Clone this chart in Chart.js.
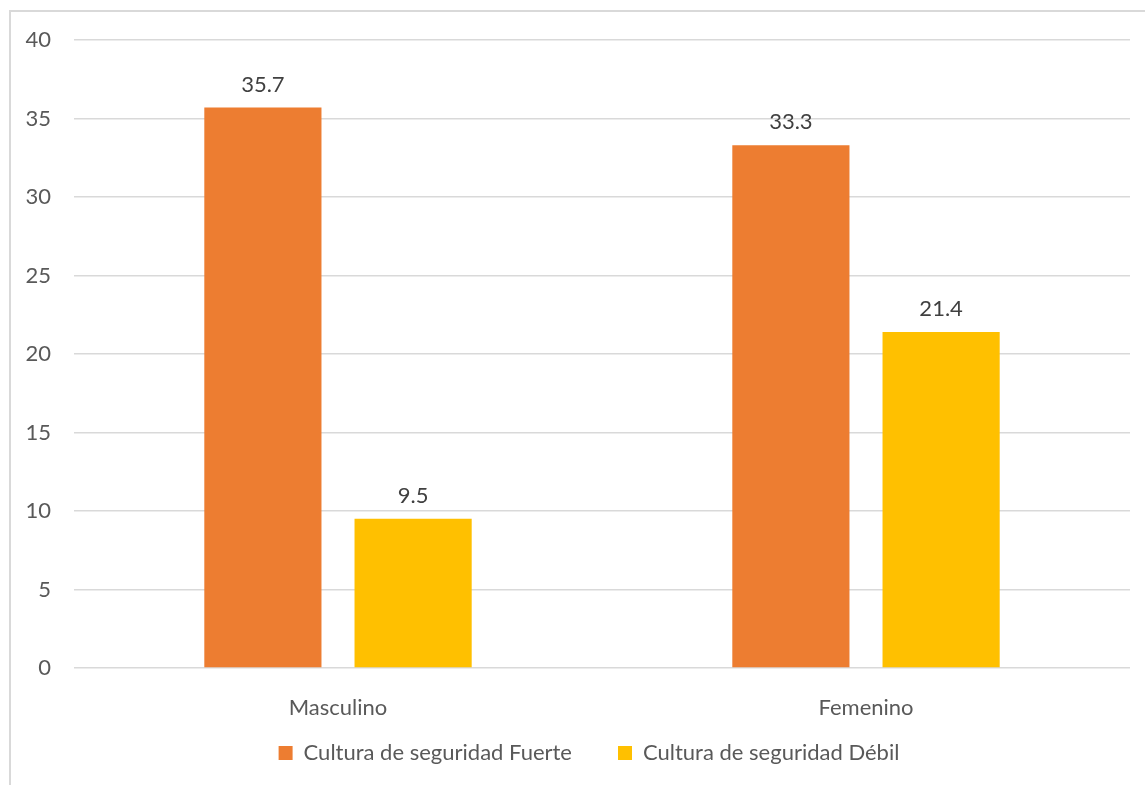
<!DOCTYPE html>
<html>
<head>
<meta charset="utf-8">
<script src="https://cdn.jsdelivr.net/npm/chart.js@4"></script>
<style>
  html, body { margin: 0; padding: 0; background: #fff; }
  #frame { position: absolute; left: 9px; top: 10px; width: 1200px; height: 850px; border: 2px solid #d9d9d9; }
  #wrap { position: absolute; left: 0; top: 0; width: 1145px; height: 785px; }
</style>
</head>
<body>
<div id="frame"></div>
<div id="wrap"><canvas id="chart"></canvas></div>
<script>
const categories = ['Masculino', 'Femenino'];
const fuerte = [35.7, 33.3];
const debil = [9.5, 21.4];
const yTicks = [0, 5, 10, 15, 20, 25, 30, 35, 40];

const fontFamily = 'Lato, "Open Sans", sans-serif';

// etiquettes de valeur au-dessus des barres
const valueLabels = {
    id: 'valueLabels',
    afterDatasetsDraw(chart) {
        const ctx = chart.ctx;
        ctx.save();
        ctx.font = '22px ' + fontFamily;
        ctx.fillStyle = '#404040';
        ctx.textAlign = 'center';
        ctx.textBaseline = 'alphabetic';
        chart.data.datasets.forEach((ds, i) => {
            chart.getDatasetMeta(i).data.forEach((bar, j) => {
                ctx.fillText(ds.data[j].toFixed(1), bar.x, bar.y - 16);
            });
        });
        ctx.restore();
    }
};

// la légende garde un grand écart horizontal, on la remonte un peu
const legendShift = {
    id: 'legendShift',
    afterLayout(chart) {
        const lg = chart.legend;
        const top = chart.chartArea.bottom + 28;
        lg.bottom = top + lg.height;
        lg.top = top;
        lg.left += 24;
        lg.right += 24;
    }
};

const ctx = document.getElementById('chart').getContext('2d');
new Chart(ctx, {
    type: 'bar',
    data: {
        labels: categories,
        datasets: [{
            label: 'Cultura de seguridad Fuerte',
            backgroundColor: '#ED7D31',
            data: fuerte
        }, {
            label: 'Cultura de seguridad Débil',
            backgroundColor: '#FFC000',
            data: debil
        }]
    },
    options: {
        responsive: true,
        maintainAspectRatio: false,
        animation: false,
        categoryPercentage: 0.569,
        barPercentage: 0.78,
        layout: { padding: { left: 0, right: 15, top: 40, bottom: -21 } },
        scales: {
            x: {
                grid: { display: false },
                border: { display: false },
                ticks: { color: '#595959', font: { family: fontFamily, size: 22 }, padding: 19 },
                afterFit: scale => { scale.height = 60; }
            },
            y: {
                min: 0,
                max: 40,
                afterBuildTicks: scale => { scale.ticks = yTicks.map(v => ({ value: v })); },
                grid: { color: '#d9d9d9', lineWidth: 1.5, drawTicks: false },
                border: { display: false },
                ticks: { color: '#595959', font: { family: fontFamily, size: 22 }, padding: 23 },
                afterFit: scale => { scale.width = 74; }
            }
        },
        plugins: {
            legend: {
                position: 'bottom',
                labels: {
                    color: '#595959',
                    font: { family: fontFamily, size: 22 },
                    boxWidth: 14,
                    boxHeight: 14,
                    padding: 46
                }
            },
            tooltip: { enabled: false }
        }
    },
    plugins: [valueLabels, legendShift]
});
</script>
</body>
</html>
